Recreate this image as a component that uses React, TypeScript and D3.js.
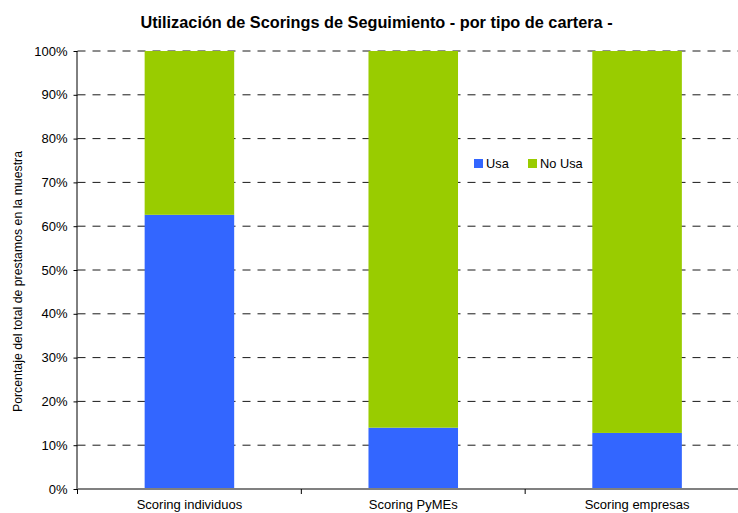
import React, { useEffect, useRef } from 'react';
import * as d3 from 'd3';

// chart data
const categories = ['Scoring individuos', 'Scoring PyMEs', 'Scoring empresas'];
const usa = [0.626, 0.14, 0.128];
const noUsa = [0.374, 0.86, 0.872];
const seriesNames = ['Usa', 'No Usa'];
const seriesColors = ['#3366FF', '#99CC00'];
const yTicks = [0, 0.1, 0.2, 0.3, 0.4, 0.5, 0.6, 0.7, 0.8, 0.9, 1];

const WIDTH = 738;
const HEIGHT = 513;
const margin = { top: 51, right: -11, bottom: 24, left: 77.5 };
const FONT = 'Arial, "Liberation Sans", Helvetica, sans-serif';

const App = () => {
  const node = useRef<SVGSVGElement>(null);

  useEffect(() => {
    const svg = d3.select(node.current);
    svg.selectAll('*').remove();

    const w = WIDTH - margin.left - margin.right;
    const h = HEIGHT - margin.top - margin.bottom;

    const xScale = d3.scaleBand<string>()
      .domain(categories)
      .range([0, w])
      .paddingInner(0.6)
      .paddingOuter(0.3);

    const yScale = d3.scaleLinear()
      .domain([0, 1])
      .range([h, 0]);

    // title
    svg.append('text')
      .attr('x', 376.5)
      .attr('y', 27.5)
      .attr('text-anchor', 'middle')
      .attr('font-family', FONT)
      .attr('font-weight', 'bold')
      .attr('font-size', 16.3)
      .attr('fill', '#000')
      .text('Utilización de Scorings de Seguimiento - por tipo de cartera -');

    // y label
    svg.append('text')
      .attr('transform', 'translate(22, 281.5) rotate(-90)')
      .attr('text-anchor', 'middle')
      .attr('font-family', FONT)
      .attr('font-size', 12.3)
      .attr('fill', '#000')
      .text('Porcentaje del total de prestamos en la muestra');

    const main = svg.append('g')
      .attr('transform', `translate(${margin.left}, ${margin.top})`);

    // dashed grid
    main.append('g')
      .selectAll('line')
      .data(yTicks.slice(1))
      .enter()
      .append('line')
      .attr('x1', 0)
      .attr('x2', w)
      .attr('y1', d => yScale(d))
      .attr('y2', d => yScale(d))
      .attr('stroke', '#1a1a1a')
      .attr('stroke-width', 1)
      .attr('stroke-dasharray', '8,7');

    // stacked bars
    const stack = d3.stack<number>()
      .keys(['0', '1'])
      .value((i, key) => (key === '0' ? usa[i] : noUsa[i]));
    const layers = stack(categories.map((_, i) => i));

    main.selectAll('g.layer')
      .data(layers)
      .enter()
      .append('g')
      .attr('class', 'layer')
      .attr('fill', (_, i) => seriesColors[i])
      .selectAll('rect')
      .data(d => d)
      .enter()
      .append('rect')
      .attr('x', d => xScale(categories[d.data])!)
      .attr('width', xScale.bandwidth())
      .attr('y', d => yScale(d[1]))
      .attr('height', d => yScale(d[0]) - yScale(d[1]));

    // y axis
    const yAxis = main.append('g')
      .call(d3.axisLeft(yScale)
        .tickValues(yTicks)
        .tickSize(4)
        .tickPadding(6)
        .tickFormat(d3.format('.0%')));
    yAxis.select('.domain').attr('stroke', '#000').attr('d', `M-0.5,${h}V0`);
    yAxis.selectAll('line').attr('stroke', '#000');
    yAxis.selectAll('text')
      .attr('font-family', FONT)
      .attr('font-size', 13)
      .attr('fill', '#000');

    // x axis
    const step = xScale.step();
    const boundaries = d3.range(categories.length + 1).map(i => xScale.range()[0] + i * step);
    const xAxis = main.append('g')
      .attr('transform', `translate(0, ${h})`);
    xAxis.append('line')
      .attr('x1', 0)
      .attr('x2', w)
      .attr('stroke', '#808080')
      .attr('stroke-width', 2);
    xAxis.selectAll('line.tick')
      .data(boundaries)
      .enter()
      .append('line')
      .attr('class', 'tick')
      .attr('x1', d => d)
      .attr('x2', d => d)
      .attr('y1', 0)
      .attr('y2', 5)
      .attr('stroke', '#000');
    xAxis.selectAll('text')
      .data(categories)
      .enter()
      .append('text')
      .attr('x', d => xScale(d)! + xScale.bandwidth() / 2)
      .attr('y', 20)
      .attr('text-anchor', 'middle')
      .attr('font-family', FONT)
      .attr('font-size', 13)
      .attr('fill', '#000')
      .text(d => d);

    // legend
    const legend = svg.append('g')
      .attr('transform', 'translate(474, 159)');
    const items = legend.selectAll('g')
      .data(seriesNames)
      .enter()
      .append('g')
      .attr('transform', (_, i) => `translate(${i * 54}, 0)`);
    items.append('rect')
      .attr('width', 9)
      .attr('height', 9)
      .attr('fill', (_, i) => seriesColors[i]);
    items.append('text')
      .attr('x', 12)
      .attr('y', 9)
      .attr('font-family', FONT)
      .attr('font-size', 12.8)
      .attr('fill', '#000')
      .text(d => d);
  }, []);

  return (
    <svg
      ref={node}
      width={WIDTH}
      height={HEIGHT}
      style={{ position: 'absolute', left: 0, top: 0, background: '#fff' }}
    />
  );
};

export default App;
